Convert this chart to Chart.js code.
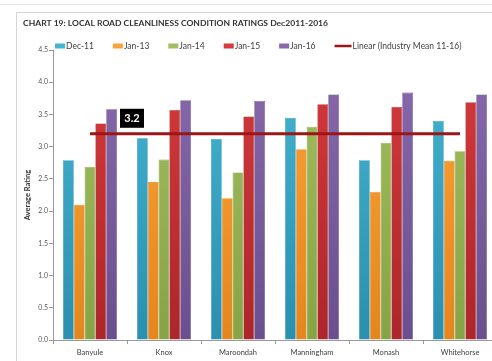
<!DOCTYPE html>
<html>
<head>
<meta charset="utf-8">
<title>Local road cleanliness condition ratings</title>
<script src="https://cdn.jsdelivr.net/npm/chart.js@4/dist/chart.umd.min.js"></script>
<style>
  html, body { margin: 0; padding: 0; background: #fff; overflow: hidden; width: 492px; height: 361px; }
  #wrap { position: relative; width: 492px; height: 361px; overflow: hidden; }
  #rule { position: absolute; left: 0; top: 4px; width: 492px; border-top: 1px solid #e4e4e4; }
  #frame { position: absolute; left: 16px; top: 12px; width: 600px; height: 400px;
           border-left: 1px solid #d4d4d4; border-top: 1px solid #d4d4d4; }
  #holder { position: absolute; left: 0; top: 0; width: 504px; height: 361px; }
</style>
</head>
<body>
<div id="wrap">
  <div id="rule"></div>
  <div id="frame"></div>
  <div id="holder"><canvas id="c" width="504" height="361"></canvas></div>
</div>
<script>
// Councils and survey periods
const categories = ['Banyule', 'Knox', 'Maroondah', 'Manningham', 'Monash', 'Whitehorse'];
const seriesNames = ['Dec-11', 'Jan-13', 'Jan-14', 'Jan-15', 'Jan-16'];

// Average rating per council for each survey
const dec11 = [2.79, 3.13, 3.12, 3.45, 2.79, 3.40];
const jan13 = [2.10, 2.45, 2.20, 2.96, 2.30, 2.78];
const jan14 = [2.69, 2.80, 2.60, 3.31, 3.06, 2.93];
const jan15 = [3.36, 3.57, 3.47, 3.66, 3.62, 3.69];
const jan16 = [3.58, 3.72, 3.71, 3.81, 3.84, 3.81];

// Industry mean trend line and its label
const meanLine = [3.2, 3.2, 3.2, 3.2, 3.2, 3.2];
const meanLabel = '3.2';
const meanName = 'Linear (Industry Mean 11-16)';

// Axis ticks
const yTicks = [0, 0.5, 1.0, 1.5, 2.0, 2.5, 3.0, 3.5, 4.0, 4.5];

const chartTitle = 'CHART 19: LOCAL ROAD CLEANLINESS CONDITION RATINGS Dec2011-2016';

const palette = [
  ['#45b6d4', '#2b8fae'],
  ['#f9a43a', '#e4861d'],
  ['#a2c061', '#86a446'],
  ['#d63b3d', '#ad262b'],
  ['#896bad', '#6a4e8d']
];
const lineColor = '#9c1616';
const FONT = 'Lato, "Open Sans", sans-serif';

function barFill(i) {
  return (ctx) => {
    const area = ctx.chart.chartArea;
    if (!area) return palette[i][0];
    const g = ctx.chart.ctx.createLinearGradient(0, area.top, 0, area.bottom);
    g.addColorStop(0, palette[i][0]);
    g.addColorStop(1, palette[i][1]);
    return g;
  };
}

const seriesValues = [dec11, jan13, jan14, jan15, jan16];
const barSets = seriesValues.map((vals, i) => ({
  type: 'bar',
  label: seriesNames[i],
  data: vals,
  backgroundColor: barFill(i),
  borderColor: palette[i][1],
  borderWidth: 0.6,
  barPercentage: 1.0,
  categoryPercentage: 0.73,
  order: 2
}));

// Title, legend and the mean value tag
const decor = {
  id: 'decor',
  afterDraw(chart) {
    const ctx = chart.ctx;
    ctx.save();
    ctx.textBaseline = 'middle';

    // title, fitted to its line
    ctx.font = 'bold 7.5px ' + FONT;
    ctx.fillStyle = '#333333';
    const tw = ctx.measureText(chartTitle).width;
    ctx.save();
    ctx.translate(23, 24);
    ctx.scale(305 / tw, 1);
    ctx.fillText(chartTitle, 0, 0);
    ctx.restore();

    // legend row
    ctx.font = '8.5px ' + FONT;
    let x = 55;
    const ly = 46;
    seriesNames.forEach((name, i) => {
      ctx.fillStyle = palette[i][0];
      ctx.fillRect(x, ly - 2.5, 10, 5);
      ctx.fillStyle = '#404040';
      ctx.fillText(name, x + 11, ly);
      x += 11 + ctx.measureText(name).width + 19;
    });
    ctx.strokeStyle = lineColor;
    ctx.lineWidth = 2.5;
    ctx.beginPath();
    ctx.moveTo(x, ly);
    ctx.lineTo(x + 17, ly);
    ctx.stroke();
    ctx.fillStyle = '#404040';
    ctx.fillText(meanName, x + 18, ly);

    // value tag above the mean line
    const xs = chart.scales.x, ys = chart.scales.y;
    const bx = xs.getPixelForValue(0) + 30;
    const by = ys.getPixelForValue(meanLine[0]) - 25;
    ctx.fillStyle = '#000';
    ctx.fillRect(bx, by, 24, 19);
    ctx.fillStyle = '#fff';
    ctx.font = 'bold 11px ' + FONT;
    ctx.textAlign = 'center';
    ctx.fillText(meanLabel, bx + 12, by + 10);
    ctx.restore();
  }
};

new Chart(document.getElementById('c'), {
  data: {
    labels: categories,
    datasets: [
      ...barSets,
      {
        type: 'line',
        label: meanName,
        data: meanLine,
        borderColor: lineColor,
        borderWidth: 3,
        pointRadius: 0,
        fill: false,
        order: 1
      }
    ]
  },
  options: {
    responsive: false,
    animation: false,
    devicePixelRatio: 1,
    layout: { padding: { top: 50, right: 7, bottom: 0, left: 0 } },
    plugins: {
      legend: { display: false },
      title: { display: false },
      tooltip: { enabled: false }
    },
    scales: {
      x: {
        offset: true,
        grid: { display: true, drawOnChartArea: false, drawTicks: true, tickLength: 4, color: '#9a9a9a', offset: true },
        border: { display: true, color: '#9a9a9a' },
        ticks: { font: { family: FONT, size: 7.5 }, color: '#404040', padding: 4, maxRotation: 0 },
        afterFit: (s) => { s.height = 21; }
      },
      y: {
        min: 0,
        max: 4.5,
        afterBuildTicks: (s) => { s.ticks = yTicks.map(v => ({ value: v })); },
        grid: { display: true, drawOnChartArea: false, drawTicks: true, tickLength: 4, color: '#9a9a9a' },
        border: { display: true, color: '#9a9a9a' },
        ticks: {
          font: { family: FONT, size: 7 },
          color: '#595959',
          padding: 1,
          callback: (v) => Number(v).toFixed(1)
        },
        title: {
          display: true,
          text: 'Average Rating',
          font: { family: FONT, size: 7.5, weight: 'bold' },
          color: '#333',
          padding: { top: 23, bottom: 0 }
        },
        afterFit: (s) => { s.width = 53; }
      }
    }
  },
  plugins: [decor]
});
</script>
</body>
</html>
